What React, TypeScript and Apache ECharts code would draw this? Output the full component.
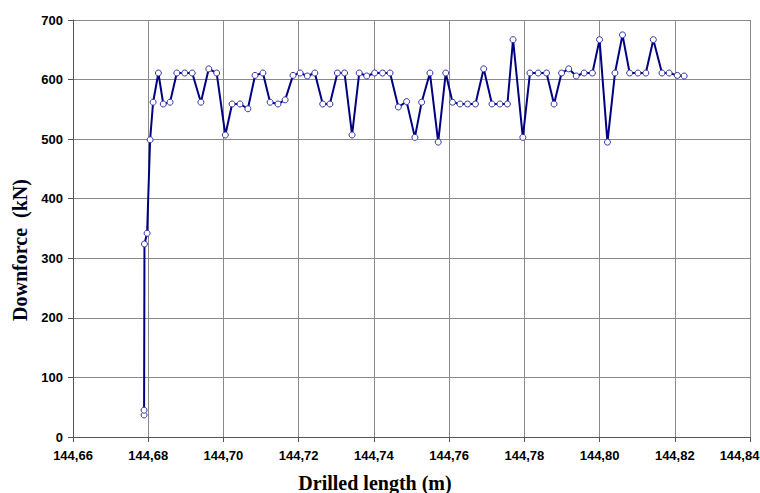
import React, { useEffect, useRef } from "react";
import * as echarts from "echarts";

const xs = [
  144.6789, 144.6789, 144.679, 144.6797, 144.6805, 144.6813, 144.6827, 144.684, 144.6858, 144.6876,
  144.6897, 144.6917, 144.694, 144.6961, 144.6982, 144.7005, 144.7023, 144.7044, 144.7065, 144.7084,
  144.7105, 144.7124, 144.7145, 144.7164, 144.7185, 144.7204, 144.7223, 144.7243, 144.7264, 144.7283,
  144.7303, 144.7322, 144.7342, 144.7361, 144.7381, 144.7402, 144.7423, 144.7443, 144.7465, 144.7487,
  144.7509, 144.7527, 144.7549, 144.7571, 144.7591, 144.7609, 144.7629, 144.7649, 144.767, 144.7692,
  144.7714, 144.7735, 144.7755, 144.777, 144.7796, 144.7815, 144.7837, 144.7859, 144.7879, 144.7899,
  144.7918, 144.7938, 144.7959, 144.7981, 144.8, 144.8021, 144.8041, 144.8061, 144.808, 144.8102,
  144.8123, 144.8143, 144.8166, 144.8185, 144.8207, 144.8225,
];

const downforce = [
  37, 45, 324, 342, 499, 562, 611, 559, 562, 611,
  611, 611, 562, 618, 611, 507, 559, 559, 551, 607,
  611, 562, 559, 566, 607, 611, 606, 611, 559, 559,
  611, 611, 507, 611, 606, 611, 611, 611, 554, 563,
  503, 562, 611, 495, 611, 562, 559, 559, 559, 618,
  559, 559, 559, 667, 503, 611, 611, 611, 559, 611,
  618, 606, 611, 611, 667, 495, 611, 675, 611, 611,
  611, 667, 611, 611, 607, 606,
];

const xMin = 144.66;
const xMax = 144.84;
const xTitle = "Drilled length (m)";
const yTitle = "Downforce  (kN)";

export default function App() {
  const ref = useRef<HTMLDivElement>(null);
  useEffect(() => {
    document.body.style.margin = "0";
    const chart = echarts.init(ref.current!, null, { renderer: "svg" });
    const labelStyle = {
      fontFamily: "Liberation Sans",
      fontWeight: "bold" as const,
      fontSize: 13,
      color: "#000",
    };
    chart.setOption({
      animation: false,
      backgroundColor: "#fff",
      grid: {
        left: 73,
        right: 10,
        top: 20,
        bottom: 56,
        containLabel: false,
        outerBoundsMode: "none",
      },
      graphic: [
        {
          type: "text",
          x: 375,
          y: 483,
          style: {
            text: xTitle,
            fontFamily: "Liberation Serif",
            fontWeight: "bold",
            fontSize: 20,
            fill: "#000",
            align: "center",
            verticalAlign: "middle",
          },
        },
        {
          type: "text",
          x: 20,
          y: 250,
          rotation: Math.PI / 2,
          style: {
            text: yTitle,
            fontFamily: "Liberation Serif",
            fontWeight: "bold",
            fontSize: 20,
            fill: "#00001a",
            align: "center",
            verticalAlign: "middle",
          },
        },
      ],
      xAxis: {
        type: "value",
        min: xMin,
        max: xMax,
        interval: 0.02,
        axisLine: { show: true, lineStyle: { color: "#555", width: 1 } },
        axisTick: { show: true, inside: false, length: 5, lineStyle: { color: "#555" } },
        axisLabel: {
          ...labelStyle,
          margin: 12,
          formatter: (v: number) => {
            const s = v.toFixed(2).replace(".", ",");
            return Math.abs(v - xMax) < 1e-6 ? "{last|" + s + "}" : s;
          },
          rich: {
            last: { ...labelStyle, padding: [0, 21, 0, 0] },
          },
          showMaxLabel: true,
          showMinLabel: true,
        },
        splitLine: { show: true, lineStyle: { color: "#8a8a8a", width: 1 } },
      },
      yAxis: {
        type: "value",
        min: 0,
        max: 700,
        interval: 100,
        axisLine: { show: true, lineStyle: { color: "#555", width: 1 } },
        axisTick: { show: true, inside: false, length: 5, lineStyle: { color: "#555" } },
        axisLabel: { ...labelStyle, margin: 10 },
        splitLine: { show: true, lineStyle: { color: "#8a8a8a", width: 1 } },
      },
      series: [
        {
          type: "line",
          data: xs.map((x, i) => [x, downforce[i]]),
          symbol: "circle",
          symbolSize: 6,
          showAllSymbol: true,
          lineStyle: { color: "#000080", width: 2 },
          itemStyle: { color: "#ffffff", borderColor: "#3333aa", borderWidth: 1 },
        },
      ],
    });
    return () => chart.dispose();
  }, []);
  return (
    <div
      ref={ref}
      style={{ position: "absolute", left: 0, top: 0, width: 760, height: 493 }}
    />
  );
}
